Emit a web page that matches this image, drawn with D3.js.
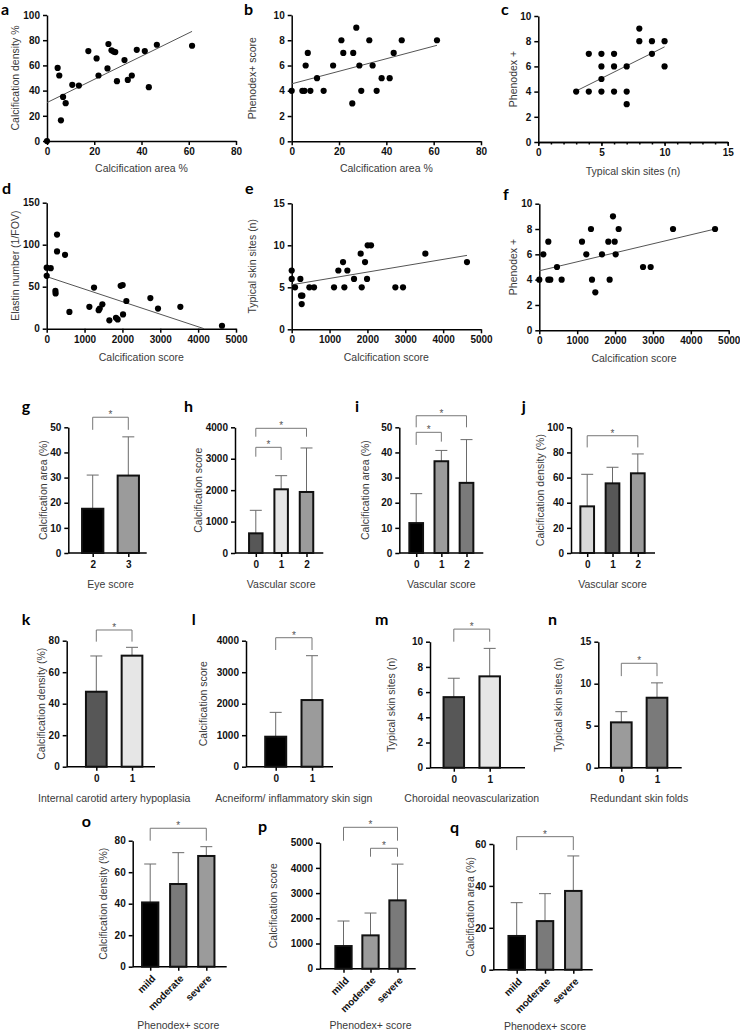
<!DOCTYPE html>
<html>
<head>
<meta charset="utf-8">
<script src="https://cdn.jsdelivr.net/npm/d3@7"></script>
<style>
  body { margin: 0; background: #fff; }
  svg { display: block; }
  .axis path, .axis line { stroke: #000; stroke-width: 1.5; }
  .axis text { font-family: "Liberation Sans", Arial, sans-serif; font-weight: bold; font-size: 10px; fill: #111; }
  .atitle { font-family: "Liberation Sans", Arial, sans-serif; font-size: 10.5px; fill: #3a3a3a; }
  .plabel { font-family: Lato, "Liberation Sans", sans-serif; font-weight: bold; font-size: 16px; fill: #000; }
  .star { font-family: "Liberation Sans", Arial, sans-serif; font-size: 10px; fill: #555; }
</style>
</head>
<body>
<svg id="fig" width="740" height="1032"></svg>
<script>
// ---- scatter data ----
var aX = [0, 4.5, 5.2, 5.9, 6.8, 7.9, 10.7, 13.5, 17.5, 21, 21.8, 25.6, 26, 27.3, 28.2, 28.9, 29.6, 32.8, 34.2, 35.9, 38, 41.4, 43.1, 46.5, 61.4];
var aY = [0, 58, 52, 16.4, 35, 30, 44.6, 44, 71.4, 65.5, 52, 57.6, 77, 72, 71, 70.6, 47.5, 64.2, 48.5, 52, 72.4, 71.4, 42.7, 76.4, 75.6];
var aFit = [[0, 30.5], [61.4, 87]];

var bX = [0, 4.5, 5.4, 5.9, 6.8, 7.9, 10.7, 13.5, 17.5, 21, 21.8, 25.6, 26, 27.3, 28.6, 29.4, 32.8, 34.2, 35.9, 38, 41.4, 43.1, 46.5, 61.4];
var bY = [4, 4, 4, 6, 7, 4, 5, 4, 6, 8, 7, 3, 7, 9, 6, 4, 8, 6, 4, 5, 5, 7, 8, 8];
var bFit = [[0, 4.55], [61.4, 7.6]];

var cX = [3, 4, 4, 5, 5, 5, 5, 6, 6, 6, 7, 7, 7, 8, 8, 9, 9, 10, 10];
var cY = [4, 4, 7, 7, 6, 5, 4, 7, 6, 4, 6, 4, 3, 9, 8, 8, 7, 8, 6];
var cFit = [[3, 4.05], [10, 7.55]];

var dX = [0, 0, 106, 273, 273, 484, 230, 235, 600, 1127, 1250, 1373, 1400, 1470, 1655, 1830, 1875, 1954, 2007, 2016, 2104, 2738, 2940, 3530, 4630];
var dY = [63, 72.6, 72, 112, 92, 88, 45, 42, 20, 26, 49, 22, 24, 29, 10, 13, 11, 51, 52, 17, 33, 36.5, 24, 26, 3.5];
var dFit = [[0, 62], [4155, 0]];

var eX = [0, 0, 88, 229, 246, 282, 264, 467, 590, 1118, 1232, 1356, 1391, 1470, 1646, 1822, 1849, 1937, 1990, 2007, 2095, 2738, 2940, 3530, 4630];
var eY = [7, 6, 5, 6, 4, 4, 3, 5, 5, 5, 7, 8, 5, 7, 6, 9, 5, 8, 6, 10, 10, 5, 5, 9, 8];
var eFit = [[0, 5.3], [4630, 8.8]];

var fX = [0, 106, 238, 238, 290, 467, 590, 1127, 1241, 1364, 1391, 1479, 1655, 1822, 1857, 1945, 1990, 2016, 2095, 2738, 2940, 3530, 4640];
var fY = [4, 6, 7, 4, 4, 5, 4, 7, 6, 8, 4, 3, 6, 7, 4, 9, 7, 6, 8, 5, 5, 8, 8];
var fFit = [[0, 4.7], [4640, 8]];

// ---- bar data: categories, means, top of error bar, significant pairs ----
var gCats = ["2", "3"];
var gMean = [17.6, 30.8];
var gUpper = [31, 46.2];
var gSig = [[0, 1]];

var vascCats = ["0", "1", "2"];
var hMean = [626, 2027, 1942];
var hUpper = [1358, 2461, 3342];
var hSig = [[0, 1], [0, 2]];

var iMean = [11.9, 36.5, 27.9];
var iUpper = [23.6, 40.8, 45.1];
var iSig = [[0, 1], [0, 2]];

var jMean = [37.1, 55.4, 63.4];
var jUpper = [62.6, 68.2, 78.8];
var jSig = [[0, 2]];

var binCats = ["0", "1"];
var kMean = [47.6, 70.5];
var kUpper = [70.3, 75.8];
var lMean = [952, 2116];
var lUpper = [1725, 3524];
var mMean = [5.6, 7.25];
var mUpper = [7.1, 9.47];
var nMean = [5.4, 8.33];
var nUpper = [6.67, 10.1];
var pairSig = [[0, 1]];

var phenoCats = ["mild", "moderate", "severe"];
var oMean = [40.8, 52.5, 70.3];
var oUpper = [65.2, 72.4, 76.2];
var oSig = [[0, 2]];
var pMean = [899, 1323, 2712];
var pUpper = [1892, 2209, 4150];
var pSig = [[0, 2], [1, 2]];
var qMean = [16.1, 23.2, 37.6];
var qUpper = [32, 36.3, 54.3];
var qSig = [[0, 2]];

var svg = d3.select("#fig");
var fmt = d3.format("d");

function ticksOf(dom, step) {
  return d3.range(dom[0], dom[1] + step / 2, step);
}

function yTitle(text, cx, cy) {
  svg.append("text").attr("class", "atitle")
    .attr("transform", "translate(" + cx + "," + cy + ") rotate(-90)")
    .attr("text-anchor", "middle").attr("dy", "0.35em").text(text);
}

function xTitle(text, cx, cy) {
  svg.append("text").attr("class", "atitle")
    .attr("x", cx).attr("y", cy)
    .attr("text-anchor", "middle").attr("dy", "0.35em").text(text);
}

function letter(t, pos) {
  svg.append("text").attr("class", "plabel").attr("x", pos[0]).attr("y", pos[1]).text(t);
}

// scatter panel with regression line
function drawScatter(L, xs, ys, fit) {
  var x = d3.scaleLinear().domain(L.xDom).range([L.x0, L.x1]);
  var y = d3.scaleLinear().domain(L.yDom).range([L.y1, L.y0]);

  if (L.minor) {
    svg.append("g").attr("class", "axis")
      .attr("transform", "translate(0," + L.y1 + ")")
      .call(d3.axisBottom(x).tickValues(ticksOf(L.xDom, L.minor)).tickSize(2.5).tickSizeOuter(0).tickFormat(""));
  }
  svg.append("g").attr("class", "axis")
    .attr("transform", "translate(0," + L.y1 + ")")
    .call(d3.axisBottom(x).tickValues(ticksOf(L.xDom, L.xStep)).tickSize(4).tickPadding(3).tickSizeOuter(0).tickFormat(fmt));
  svg.append("g").attr("class", "axis")
    .attr("transform", "translate(" + L.x0 + ",0)")
    .call(d3.axisLeft(y).tickValues(ticksOf(L.yDom, L.yStep)).tickSize(4).tickPadding(3).tickSizeOuter(0).tickFormat(fmt));

  svg.append("path")
    .datum(fit)
    .attr("d", d3.line().x(function (d) { return x(d[0]); }).y(function (d) { return y(d[1]); }))
    .attr("fill", "none").attr("stroke", "#555").attr("stroke-width", 1);

  svg.append("g").selectAll("circle")
    .data(xs.map(function (v, i) { return [v, ys[i]]; }))
    .enter().append("circle")
    .attr("cx", function (d) { return x(d[0]); })
    .attr("cy", function (d) { return y(d[1]); })
    .attr("r", 3.1).attr("fill", "#000");

  xTitle(L.xt, (L.x0 + L.x1) / 2, L.xtY);
  yTitle(L.yt, L.ytX, (L.y0 + L.y1) / 2);
  letter(L.id, L.lab);
}

// bar panel with upward SD bars and significance brackets
function drawBars(L, cats, mean, upper, sig) {
  var x = d3.scalePoint().domain(cats).range(L.centers);
  var y = d3.scaleLinear().domain(L.yDom).range([L.y1, L.y0]);

  var xa = svg.append("g").attr("class", "axis")
    .attr("transform", "translate(0," + L.y1 + ")")
    .call(d3.axisBottom(x).tickSize(4).tickPadding(4).tickSizeOuter(0));
  xa.select(".domain").attr("d", "M" + L.ax[0] + ",0H" + L.ax[1]);
  if (L.rotate) {
    xa.selectAll(".tick text")
      .attr("x", 0).attr("y", 0).attr("dy", "0.35em")
      .attr("transform", "translate(3,10) rotate(-45)")
      .style("text-anchor", "end");
  }
  svg.append("g").attr("class", "axis")
    .attr("transform", "translate(" + L.ax[0] + ",0)")
    .call(d3.axisLeft(y).tickValues(ticksOf(L.yDom, L.yStep)).tickSize(4).tickPadding(3).tickSizeOuter(0).tickFormat(fmt));

  var rows = cats.map(function (c, i) { return { c: c, m: mean[i], u: upper[i], fill: L.fills[i] }; });

  // error bars (upper only)
  var eb = svg.append("g").attr("stroke", "#6a6a6a").attr("stroke-width", 1).attr("fill", "none");
  eb.selectAll("path").data(rows).enter().append("path")
    .attr("d", function (d) {
      var cx = x(d.c);
      return "M" + cx + "," + y(d.m) + "V" + y(d.u) + "M" + (cx - 6) + "," + y(d.u) + "H" + (cx + 6);
    });

  svg.append("g").selectAll("rect").data(rows).enter().append("rect")
    .attr("x", function (d) { return x(d.c) - L.bw / 2 + 1; })
    .attr("y", function (d) { return y(d.m); })
    .attr("width", L.bw - 2)
    .attr("height", function (d) { return L.y1 - y(d.m); })
    .attr("fill", function (d) { return d.fill; })
    .attr("stroke", "#111").attr("stroke-width", 2);

  // brackets
  sig.forEach(function (s, i) {
    var b = L.brackets[i];
    var xa0 = x(cats[s[0]]), xa1 = x(cats[s[1]]);
    svg.append("path")
      .attr("d", "M" + xa0 + "," + y(b[1]) + "V" + y(b[0]) + "H" + xa1 + "V" + y(b[2]))
      .attr("fill", "none").attr("stroke", "#777").attr("stroke-width", 1);
    svg.append("text").attr("class", "star")
      .attr("x", (xa0 + xa1) / 2).attr("y", y(b[0]) + 1)
      .attr("text-anchor", "middle").text("*");
  });

  xTitle(L.xt, (L.centers[0] + L.centers[1]) / 2, L.xtY);
  yTitle(L.yt, L.ytX, (L.y0 + L.y1) / 2);
  letter(L.id, L.lab);
}

// ---- scatter panels ----
drawScatter({ id: "a", x0: 47, x1: 236, y0: 15, y1: 141, xDom: [0, 80], yDom: [0, 100], xStep: 20, yStep: 20,
  xt: "Calcification area %", xtY: 168, yt: "Calcification density %", ytX: 15, lab: [1, 15] }, aX, aY, aFit);
drawScatter({ id: "b", x0: 291.7, x1: 481, y0: 15, y1: 141.3, xDom: [0, 80], yDom: [0, 10], xStep: 20, yStep: 2,
  xt: "Calcification area %", xtY: 168, yt: "Phenodex+ score", ytX: 252.3, lab: [244, 15] }, bX, bY, bFit);
drawScatter({ id: "c", x0: 538.3, x1: 727.7, y0: 16, y1: 142, xDom: [0, 15], yDom: [0, 10], xStep: 5, yStep: 2, minor: 1,
  xt: "Typical skin sites (n)", xtY: 171, yt: "Phenodex +", ytX: 513.3, lab: [501, 15] }, cX, cY, cFit);
drawScatter({ id: "d", x0: 46.7, x1: 236, y0: 202.7, y1: 328.7, xDom: [0, 5000], yDom: [0, 150], xStep: 1000, yStep: 50,
  xt: "Calcification score", xtY: 357, yt: "Elastin number (1/FOV)", ytX: 15, lab: [2, 194] }, dX, dY, dFit);
drawScatter({ id: "e", x0: 291.7, x1: 481, y0: 203.3, y1: 329.3, xDom: [0, 5000], yDom: [0, 15], xStep: 1000, yStep: 5,
  xt: "Calcification score", xtY: 357, yt: "Typical skin sites (n)", ytX: 252.3, lab: [245, 194] }, eX, eY, eFit);
drawScatter({ id: "f", x0: 539.3, x1: 728.7, y0: 203.7, y1: 330.3, xDom: [0, 5000], yDom: [0, 10], xStep: 1000, yStep: 2,
  xt: "Calcification score", xtY: 358, yt: "Phenodex +", ytX: 513.3, lab: [503, 200] }, fX, fY, fFit);

// ---- bar panels, row g-j ----
drawBars({ id: "g", ax: [68.3, 146.7], centers: [92.7, 128.3], bw: 23.3, y0: 427.3, y1: 553, yDom: [0, 50], yStep: 10,
  fills: ["#000", "#9b9b9b"], brackets: [[54, 49, 49]],
  xt: "Eye score", xtY: 584, yt: "Calcification area (%)", ytX: 43.3, lab: [21.7, 412] }, gCats, gMean, gUpper, gSig);
drawBars({ id: "h", ax: [235, 323.3], centers: [255.8, 306.5], bw: 15.5, y0: 427.3, y1: 553, yDom: [0, 4000], yStep: 1000,
  fills: ["#575757", "#e6e6e6", "#9b9b9b"], brackets: [[3363, 3064, 2959], [3968, 3700, 3700]],
  xt: "Vascular score", xtY: 584, yt: "Calcification score", ytX: 198.3, lab: [184, 412] }, vascCats, hMean, hUpper, hSig);
drawBars({ id: "i", ax: [399.3, 483.3], centers: [416.2, 466.5], bw: 15.7, y0: 427.3, y1: 553, yDom: [0, 50], yStep: 10,
  fills: ["#000", "#9b9b9b", "#7a7a7a"], brackets: [[48, 43, 44.3], [54.6, 50, 50]],
  xt: "Vascular score", xtY: 584, yt: "Calcification area (%)", ytX: 365, lab: [355, 412] }, vascCats, iMean, iUpper, iSig);
drawBars({ id: "j", ax: [571, 655], centers: [587.2, 637.8], bw: 15.7, y0: 427.3, y1: 553, yDom: [0, 100], yStep: 20,
  fills: ["#d9d9d9", "#575757", "#9b9b9b"], brackets: [[93.3, 84, 84]],
  xt: "Vascular score", xtY: 584, yt: "Calcification density (%)", ytX: 540.7, lab: [521.7, 412] }, vascCats, jMean, jUpper, jSig);

// ---- row k-n ----
drawBars({ id: "k", ax: [66.7, 155], centers: [96.3, 132], bw: 22.7, y0: 640.7, y1: 766.7, yDom: [0, 80], yStep: 20,
  fills: ["#575757", "#e6e6e6"], brackets: [[86.8, 79.4, 79.4]],
  xt: "Internal carotid artery hypoplasia", xtY: 798, yt: "Calcification density (%)", ytX: 41, lab: [21.7, 625] }, binCats, kMean, kUpper, pairSig);
drawBars({ id: "l", ax: [246, 333], centers: [275.7, 312], bw: 23, y0: 640.7, y1: 766.7, yDom: [0, 4000], yStep: 1000,
  fills: ["#000", "#9b9b9b"], brackets: [[4095, 3705, 3705]],
  xt: "Acneiform/ inflammatory skin sign", xtY: 798, yt: "Calcification score", ytX: 203.3, lab: [191.7, 625] }, binCats, lMean, lUpper, pairSig);
drawBars({ id: "m", ax: [430, 525], centers: [453.8, 489.7], bw: 22.5, y0: 641.7, y1: 767.7, yDom: [0, 10], yStep: 2,
  fills: ["#575757", "#e6e6e6"], brackets: [[11, 10, 10]],
  xt: "Choroidal neovascularization", xtY: 798, yt: "Typical skin sites (n)", ytX: 391.7, lab: [375, 625] }, binCats, mMean, mUpper, pairSig);
drawBars({ id: "n", ax: [598.3, 681.7], centers: [621.3, 657], bw: 22.7, y0: 641.7, y1: 767.7, yDom: [0, 15], yStep: 5,
  fills: ["#9b9b9b", "#7a7a7a"], brackets: [[12.43, 10.9, 10.9]],
  xt: "Redundant skin folds", xtY: 798, yt: "Typical skin sites (n)", ytX: 558.3, lab: [548, 625] }, binCats, nMean, nUpper, pairSig);

// ---- row o-q ----
drawBars({ id: "o", ax: [132.7, 226.7], centers: [150.2, 206.3], bw: 18.3, y0: 840.7, y1: 966.7, yDom: [0, 80], yStep: 20, rotate: true,
  fills: ["#000", "#7a7a7a", "#9b9b9b"], brackets: [[87.9, 80, 80]],
  xt: "Phenodex+ score", xtY: 1025, yt: "Calcification density (%)", ytX: 103.3, lab: [81.7, 827] }, phenoCats, oMean, oUpper, oSig);
drawBars({ id: "p", ax: [320, 415.7], centers: [343.5, 397.5], bw: 18.3, y0: 842.7, y1: 968.7, yDom: [0, 5000], yStep: 1000, rotate: true,
  fills: ["#000", "#9b9b9b", "#7a7a7a"], brackets: [[5611, 5079, 5079], [4778, 4444, 4444]],
  xt: "Phenodex+ score", xtY: 1025, yt: "Calcification score", ytX: 273.3, lab: [258, 832] }, phenoCats, pMean, pUpper, pSig);
drawBars({ id: "q", ax: [493.3, 592.7], centers: [516.7, 573.3], bw: 18.5, y0: 844, y1: 969.7, yDom: [0, 60], yStep: 20, rotate: true,
  fills: ["#000", "#7a7a7a", "#9b9b9b"], brackets: [[63.5, 57.1, 57.1]],
  xt: "Phenodex+ score", xtY: 1026, yt: "Calcification area (%)", ytX: 470, lab: [450, 833] }, phenoCats, qMean, qUpper, qSig);
</script>
</body>
</html>
